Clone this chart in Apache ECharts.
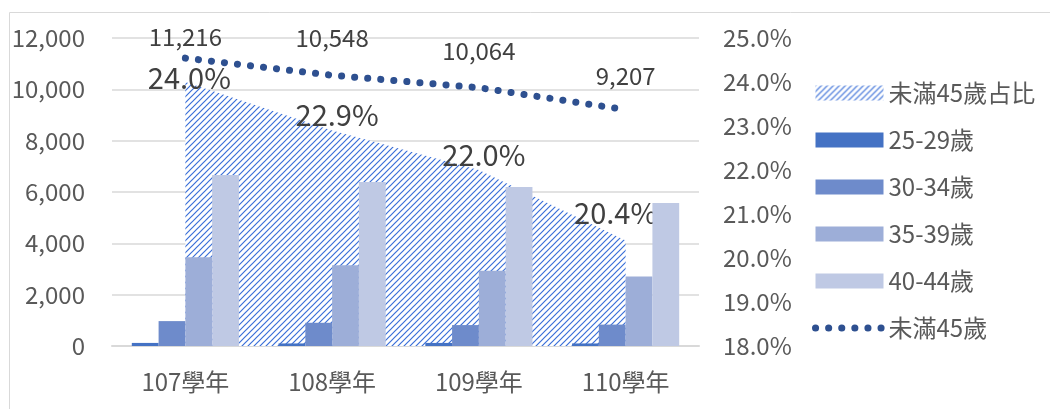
<!DOCTYPE html>
<html>
<head>
<meta charset="utf-8">
<script src="https://cdn.jsdelivr.net/npm/echarts@6/dist/echarts.min.js"></script>
<style>
  html, body { margin: 0; padding: 0; background: #fff; }
  #main { width: 1050px; height: 409px; }
</style>
</head>
<body>
<div id="main"></div>
<script>
// chart data
const categories = ["107學年", "108學年", "109學年", "110學年"];
const age2529 = [120, 100, 120, 100];
const age3034 = [970, 905, 815, 834];
const age3539 = [3460, 3150, 2935, 2706];
const age4044 = [6666, 6393, 6194, 5567];
const totalUnder45 = [11216, 10548, 10064, 9207];
const shareUnder45 = [24.0, 22.9, 22.0, 20.4];

// label nudges (style only)
const totalLabelOffset = [[0, -21], [0, -37], [0, -37], [0, -34]];
const shareLabelOffset = [[4, -4], [5, -15], [5, -15], [-10, -27]];

const font = "'Noto Sans CJK TC', 'Noto Sans', sans-serif";
const tickColor = "#595959";
const dotBlue = "#2E5090";
const dotted = { color: dotBlue, width: 7, type: [0.1, 13], cap: "round" };

// hatch pattern for the share area
const hatch = document.createElement("canvas");
hatch.width = 6;
hatch.height = 6;
const hctx = hatch.getContext("2d");
hctx.fillStyle = "#fff";
hctx.fillRect(0, 0, 6, 6);
hctx.strokeStyle = "#3A6FD8";
hctx.lineWidth = 1.2;
hctx.beginPath();
hctx.moveTo(-1, 7); hctx.lineTo(7, -1);
hctx.moveTo(-4, 4); hctx.lineTo(4, -4);
hctx.moveTo(2, 10); hctx.lineTo(10, 2);
hctx.stroke();
const hatchFill = { image: hatch, repeat: "repeat" };

const chart = echarts.init(document.getElementById("main"));

const barSeries = (name, values, color) => ({
  name: name,
  type: "bar",
  yAxisIndex: 0,
  data: values,
  barGap: "0%",
  barCategoryGap: "27%",
  itemStyle: { color: color },
});

const option = {
  animation: false,
  textStyle: { fontFamily: font },
  graphic: [{
    type: "rect",
    left: 7, top: 10,
    shape: { width: 1100, height: 500 },
    style: { fill: "none", stroke: "#D9D9D9", lineWidth: 1 },
    silent: true,
  }],
  grid: { left: 112, right: 351, top: 38, bottom: 63 },
  legend: {
    orient: "vertical",
    left: 812,
    top: 81,
    padding: 0,
    itemWidth: 68,
    itemHeight: 15,
    itemGap: 23,
    textStyle: { fontSize: 24, color: tickColor, fontFamily: font },
    data: [
      { name: "未滿45歲占比", icon: "rect", itemStyle: { color: hatchFill } },
      { name: "25-29歲", icon: "rect" },
      { name: "30-34歲", icon: "rect" },
      { name: "35-39歲", icon: "rect" },
      { name: "40-44歲", icon: "rect" },
      {
        name: "未滿45歲",
        itemStyle: { color: "rgba(0,0,0,0)", borderWidth: 0 },
        lineStyle: dotted,
      },
    ],
  },
  xAxis: {
    type: "category",
    data: categories,
    axisTick: { show: false },
    axisLine: { lineStyle: { color: "#D9D9D9", width: 2 } },
    axisLabel: { fontSize: 24, color: tickColor, margin: 24 },
  },
  yAxis: [
    {
      type: "value",
      min: 0, max: 12000, interval: 2000,
      axisLine: { show: false },
      axisTick: { show: false },
      axisLabel: {
        fontSize: 24, color: tickColor, margin: 27,
        formatter: (v) => v.toLocaleString("en-US"),
      },
      splitLine: { lineStyle: { color: "#D9D9D9", width: 1.5 } },
    },
    {
      type: "value",
      min: 18, max: 25, interval: 1,
      axisLine: { show: false },
      axisTick: { show: false },
      axisLabel: {
        fontSize: 24, color: tickColor, margin: 24,
        formatter: (v) => v.toFixed(1) + "%",
      },
      splitLine: { show: false },
    },
  ],
  series: [
    {
      name: "未滿45歲占比",
      type: "line",
      yAxisIndex: 1,
      data: shareUnder45.map((v, i) => ({
        value: v,
        label: { offset: shareLabelOffset[i] },
      })),
      symbol: "circle",
      symbolSize: 0,
      showSymbol: true,
      lineStyle: { width: 0 },
      itemStyle: { color: "#4472C4" },
      areaStyle: { color: hatchFill, opacity: 1, origin: "start" },
      label: {
        show: true,
        position: "inside",
        fontSize: 29,
        color: "#404040",
        formatter: (p) => p.value.toFixed(1) + "%",
      },
      z: 1,
    },
    barSeries("25-29歲", age2529, "#4472C4"),
    barSeries("30-34歲", age3034, "#6E8BCB"),
    barSeries("35-39歲", age3539, "#9DAED8"),
    barSeries("40-44歲", age4044, "#BFC9E4"),
    {
      name: "未滿45歲",
      type: "line",
      yAxisIndex: 0,
      data: totalUnder45.map((v, i) => ({
        value: v,
        label: { offset: totalLabelOffset[i] },
      })),
      symbol: "circle",
      symbolSize: 0,
      showSymbol: true,
      itemStyle: { color: dotBlue },
      lineStyle: dotted,
      label: {
        show: true,
        position: "inside",
        fontSize: 24,
        color: "#404040",
        formatter: (p) => p.value.toLocaleString("en-US"),
      },
      z: 5,
    },
  ],
};

chart.setOption(option);
</script>
</body>
</html>
